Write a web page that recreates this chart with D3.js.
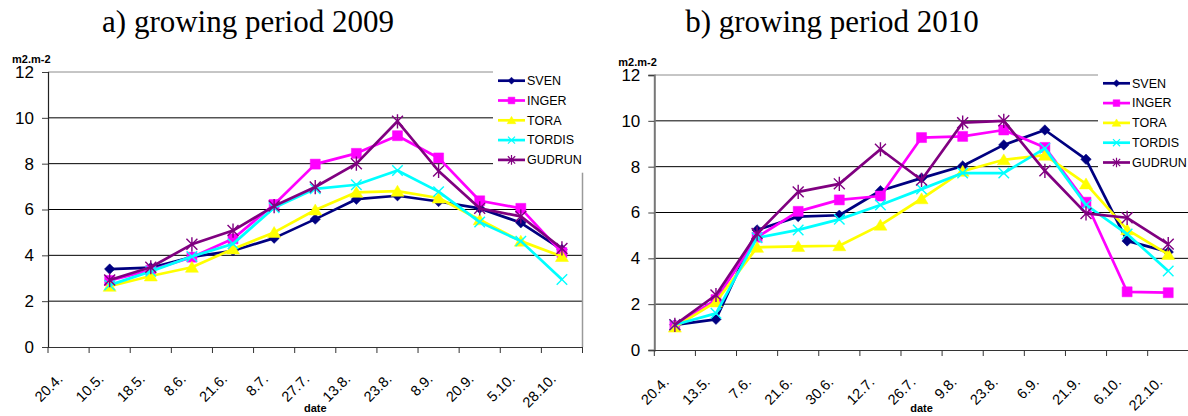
<!DOCTYPE html>
<html>
<head>
<meta charset="utf-8">
<script src="https://cdn.jsdelivr.net/npm/d3@7"></script>
<style>
  body { margin: 0; background: #fff; }
  svg { display: block; }
</style>
</head>
<body>
<div id="chart"></div>
<script>
// ---- data ----
var seriesNames = ["SVEN", "INGER", "TORA", "TORDIS", "GUDRUN"];

var dates2009 = ["20.4.", "10.5.", "18.5.", "8.6.", "21.6.", "8.7.", "27.7.", "13.8.", "23.8.", "8.9.", "20.9.", "5.10.", "28.10."];
var sven2009   = [null, 3.40, 3.46, 3.93, 4.20, 4.75, 5.58, 6.45, 6.60, 6.35, 6.05, 5.42, 4.25];
var inger2009  = [null, 2.90, 3.35, 3.92, 4.72, 6.22, 7.98, 8.45, 9.22, 8.25, 6.38, 6.05, 4.12];
var tora2009   = [null, 2.65, 3.10, 3.48, 4.28, 5.00, 5.98, 6.75, 6.80, 6.50, 5.55, 4.62, 3.95];
var tordis2009 = [null, 2.70, 3.30, 3.95, 4.50, 6.08, 6.90, 7.08, 7.70, 6.78, 5.45, 4.62, 2.95];
var gudrun2009 = [null, 2.92, 3.48, 4.48, 5.08, 6.15, 6.98, 8.00, 9.85, 7.68, 6.05, 5.70, 4.30];

var dates2010 = ["20.4.", "13.5.", "7.6.", "21.6.", "30.6.", "12.7.", "26.7.", "9.8.", "23.8.", "6.9.", "21.9.", "6.10.", "22.10."];
var sven2010   = [1.10, 1.34, 5.24, 5.82, 5.88, 6.95, 7.50, 8.03, 8.95, 9.60, 8.32, 4.76, 4.28];
var inger2010  = [1.05, 2.20, 4.92, 6.05, 6.55, 6.72, 9.27, 9.32, 9.60, 8.84, 6.45, 2.54, 2.50];
var tora2010   = [1.00, 2.10, 4.48, 4.52, 4.55, 5.45, 6.60, 7.80, 8.30, 8.50, 7.25, 5.25, 4.17];
var tordis2010 = [1.10, 1.60, 4.90, 5.24, 5.70, 6.33, 7.02, 7.72, 7.72, 8.80, 6.33, 5.06, 3.45];
var gudrun2010 = [1.10, 2.40, 5.08, 6.90, 7.25, 8.76, 7.42, 9.92, 10.00, 7.82, 5.96, 5.77, 4.62];

var yTicks = [0, 2, 4, 6, 8, 10, 12];

var colors = ["#000080", "#ff00ff", "#ffff00", "#00ffff", "#800080"];

// excel-like marker shapes
var mDiamond = { draw: function(c, s) { var r = Math.sqrt(s) / 2;
  c.moveTo(0, -r); c.lineTo(r, 0); c.lineTo(0, r); c.lineTo(-r, 0); c.closePath(); } };
var mSquare = { draw: function(c, s) { var r = Math.sqrt(s) / 2;
  c.rect(-r, -r, 2 * r, 2 * r); } };
var mTriangle = { draw: function(c, s) { var r = Math.sqrt(s) / 2;
  c.moveTo(0, -r); c.lineTo(r * 1.1, r * 0.85); c.lineTo(-r * 1.1, r * 0.85); c.closePath(); } };
var mCross = { draw: function(c, s) { var r = Math.sqrt(s) / 2;
  c.moveTo(-r, -r); c.lineTo(r, r); c.moveTo(-r, r); c.lineTo(r, -r); } };
var mStar = { draw: function(c, s) { var r = Math.sqrt(s) / 2;
  c.moveTo(-r, -r); c.lineTo(r, r); c.moveTo(-r, r); c.lineTo(r, -r);
  c.moveTo(0, -r * 1.3); c.lineTo(0, r * 1.3); } };
var markers = [mDiamond, mSquare, mTriangle, mCross, mStar];
var markerFilled = [true, true, true, false, false];
var markerSize = [110, 100, 140, 110, 120];

function drawPanel(svg, opt) {
  var x = d3.scaleBand()
    .domain(opt.dates)
    .range([opt.left, opt.left + 534.5])
    .padding(0);
  var y = d3.scaleLinear()
    .domain([0, 12])
    .range([opt.bottom, opt.bottom - 275]);

  var g = svg.append("g");

  // gridlines
  g.selectAll(".grid")
    .data(yTicks.slice(1))
    .enter()
    .append("line")
      .attr("x1", opt.left)
      .attr("x2", opt.left + 534.5)
      .attr("y1", function(d) { return y(d); })
      .attr("y2", function(d) { return y(d); })
      .style("stroke", function(d) { return d == 12 ? "#8c8c8c" : "#000"; })
      .style("stroke-width", 1);

  // plot area right border
  g.append("line")
    .attr("x1", opt.left + 534.5).attr("x2", opt.left + 534.5)
    .attr("y1", y(12)).attr("y2", y(0))
    .style("stroke", "#9a9a9a").style("stroke-width", 1.5);

  // y axis
  var yAxis = g.append("g")
    .attr("transform", "translate(" + opt.left + ",0)")
    .call(d3.axisLeft(y).tickValues(yTicks).tickSize(6).tickPadding(8));
  yAxis.selectAll("text")
    .style("font-family", "Liberation Sans, Arial, sans-serif")
    .style("font-size", "17px")
    .style("fill", "#000");
  yAxis.select(".domain").style("stroke", opt.yAxisColor).style("stroke-width", opt.yAxisWidth);
  yAxis.selectAll(".tick line").style("stroke", "#404040");

  // x axis, ticks sit between categories like excel
  var xAxis = g.append("g")
    .attr("transform", "translate(0," + opt.bottom + ")")
    .call(d3.axisBottom(x).tickSize(0).tickFormat(""));
  xAxis.select(".domain").style("stroke", "#333").style("stroke-width", 1.2);
  xAxis.selectAll(".tick").remove();
  xAxis.selectAll(".xtick")
    .data(opt.dates.concat(["end"]))
    .enter()
    .append("line")
      .attr("x1", function(d) { return d == "end" ? opt.left + 534.5 : x(d); })
      .attr("x2", function(d) { return d == "end" ? opt.left + 534.5 : x(d); })
      .attr("y1", 0)
      .attr("y2", 6)
      .style("stroke", "#333");

  g.selectAll(".xlabel")
    .data(opt.dates)
    .enter()
    .append("text")
      .attr("transform", function(d) {
        return "translate(" + (x(d) + x.bandwidth() / 2 - 5) + "," + (opt.bottom + 33) + ") rotate(-45)";
      })
      .attr("text-anchor", "end")
      .style("font-family", "Liberation Sans, Arial, sans-serif")
      .style("font-size", "14.5px")
      .text(function(d) { return d; });

  // axis titles
  g.append("text")
    .attr("x", opt.left - 36)
    .attr("y", y(12) - 9)
    .style("font-family", "Liberation Sans, Arial, sans-serif")
    .style("font-size", "11px")
    .style("font-weight", "bold")
    .text("m2.m-2");
  g.append("text")
    .attr("x", opt.left + 534.5 / 2)
    .attr("y", 412)
    .attr("text-anchor", "middle")
    .style("font-family", "Liberation Sans, Arial, sans-serif")
    .style("font-size", "11px")
    .style("font-weight", "bold")
    .text("date");

  // chart title
  svg.append("text")
    .attr("x", opt.titleX)
    .attr("y", 32)
    .attr("text-anchor", "middle")
    .style("font-family", "Liberation Serif, Times New Roman, serif")
    .style("font-size", "31px")
    .text(opt.title);

  // lines and markers
  var line = d3.line()
    .defined(function(d) { return d.v != null; })
    .x(function(d) { return x(d.date) + x.bandwidth() / 2; })
    .y(function(d) { return y(d.v); });

  opt.values.forEach(function(vals, i) {
    var pts = vals.map(function(v, j) { return { date: opt.dates[j], v: v }; });
    g.append("path")
      .datum(pts)
      .attr("d", line)
      .style("fill", "none")
      .style("stroke", colors[i])
      .style("stroke-width", 2.7)
      .style("stroke-linejoin", "round");
    g.selectAll(".m" + i)
      .data(pts.filter(function(d) { return d.v != null; }))
      .enter()
      .append("path")
        .attr("transform", function(d) {
          return "translate(" + (x(d.date) + x.bandwidth() / 2) + "," + y(d.v) + ")";
        })
        .attr("d", d3.symbol().type(markers[i]).size(markerSize[i]))
        .style("fill", markerFilled[i] ? colors[i] : "none")
        .style("stroke", colors[i])
        .style("stroke-width", markerFilled[i] ? 0.5 : 1.4);
  });

  // legend
  var lg = g.append("g");
  lg.append("rect")
    .attr("x", opt.legendX - 5)
    .attr("y", opt.legendY - 16)
    .attr("width", 100)
    .attr("height", 108)
    .style("fill", "#fff");
  seriesNames.forEach(function(name, i) {
    var yy = opt.legendY + i * 19.8;
    lg.append("line")
      .attr("x1", opt.legendX).attr("x2", opt.legendX + 27)
      .attr("y1", yy).attr("y2", yy)
      .style("stroke", colors[i]).style("stroke-width", 2.7);
    lg.append("path")
      .attr("transform", "translate(" + (opt.legendX + 13.5) + "," + yy + ")")
      .attr("d", d3.symbol().type(markers[i]).size(markerSize[i] * 0.45))
      .style("fill", markerFilled[i] ? colors[i] : "none")
      .style("stroke", colors[i])
      .style("stroke-width", markerFilled[i] ? 0.5 : 1.2);
    lg.append("text")
      .attr("x", opt.legendX + 29)
      .attr("y", yy)
      .attr("dy", "0.35em")
      .style("font-family", "Liberation Sans, Arial, sans-serif")
      .style("font-size", "12.5px")
      .text(name);
  });
}

function init() {
  var svg = d3.select("#chart")
    .append("svg")
      .attr("width", 1188)
      .attr("height", 416);

  drawPanel(svg, {
    left: 48, bottom: 347, dates: dates2009,
    values: [sven2009, inger2009, tora2009, tordis2009, gudrun2009],
    title: "a) growing period 2009", titleX: 248,
    legendX: 498, legendY: 80.7,
    yAxisColor: "#222", yAxisWidth: 1.2
  });
  drawPanel(svg, {
    left: 654.3, bottom: 350, dates: dates2010,
    values: [sven2010, inger2010, tora2010, tordis2010, gudrun2010],
    title: "b) growing period 2010", titleX: 832,
    legendX: 1103, legendY: 83.3,
    yAxisColor: "#777", yAxisWidth: 2
  });
}
window.onload = init;
</script>
</body>
</html>
